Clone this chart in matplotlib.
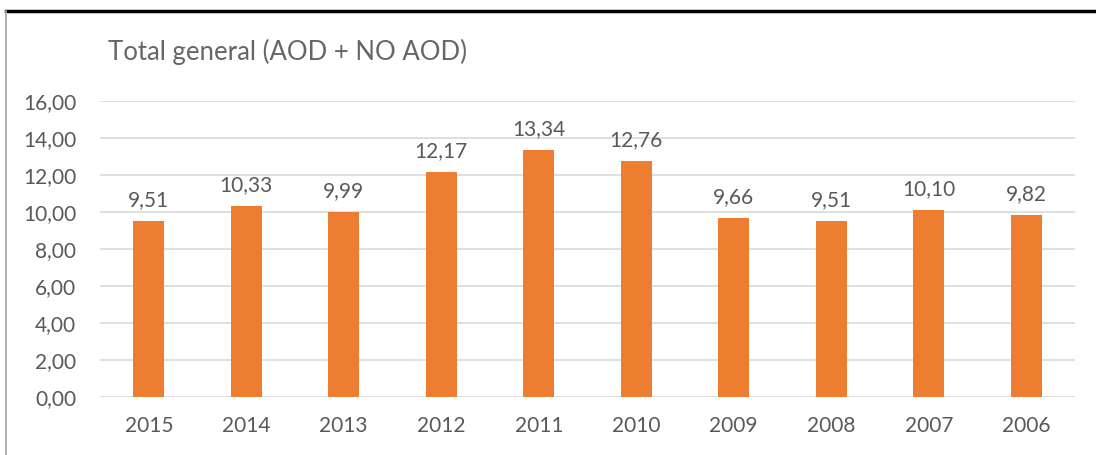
import matplotlib.pyplot as plt
from matplotlib.lines import Line2D

plt.rcParams['font.family'] = ['Lato', 'DejaVu Sans']

# Chart data
years = ['2015', '2014', '2013', '2012', '2011', '2010', '2009', '2008', '2007', '2006']
values = [9.51, 10.33, 9.99, 12.17, 13.34, 12.76, 9.66, 9.51, 10.10, 9.82]
yticks = [0, 2, 4, 6, 8, 10, 12, 14, 16]

bar_color = '#ED7D31'
text_color = '#595959'
grid_color = '#D9D9D9'

W, H = 1096, 455
fig = plt.figure(figsize=(W / 100, H / 100), dpi=100)
ax = fig.add_axes([100 / W, 1 - 397 / H, 975 / W, (397 - 101) / H])

x = range(len(years))
ax.bar(x, values, width=0.32, color=bar_color, zorder=3)

for xi, v in zip(x, values):
    ax.text(xi, v + 0.6, f'{v:.2f}'.replace('.', ','), ha='center', va='bottom',
            fontsize=15, color=text_color)

ax.set_xlim(-0.5, len(years) - 0.5)
ax.set_ylim(0, 16)
ax.set_yticks(yticks)
ax.set_yticklabels([f'{t:.2f}'.replace('.', ',') for t in yticks])
ax.set_xticks(list(x))
ax.set_xticklabels(years)
ax.tick_params(axis='both', length=0, labelsize=15, colors=text_color)
ax.tick_params(axis='x', pad=14)
ax.tick_params(axis='y', pad=17)
ax.grid(axis='y', color=grid_color, linewidth=1.2, zorder=0)
for s in ax.spines.values():
    s.set_visible(False)

fig.text(108 / W, 1 - 52 / H, 'Total general (AOD + NO AOD)', fontsize=18.5,
         color='#666666', ha='left', va='center')

# frame lines from the original screenshot
fig.add_artist(Line2D([6 / W, 1], [1 - 11 / H, 1 - 11 / H], color='black', linewidth=2.5))
fig.add_artist(Line2D([6 / W, 6 / W], [0, 1 - 11 / H], color='#A6A6A6', linewidth=1.2))

fig.savefig('out.png', dpi=100)
